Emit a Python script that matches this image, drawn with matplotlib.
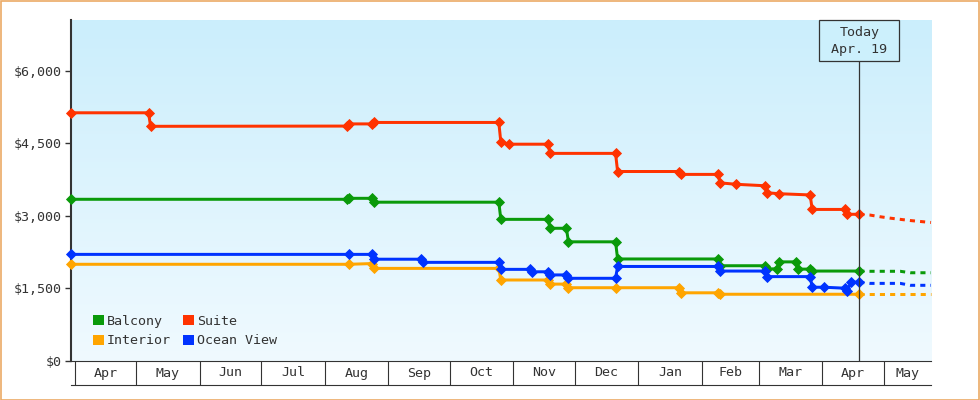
import numpy as np
import pandas as pd
import matplotlib
matplotlib.use('Agg')
import matplotlib.pyplot as plt
import matplotlib.dates as mdates
from matplotlib.colors import LinearSegmentedColormap
from matplotlib.patches import Rectangle, Patch

plt.rcParams['font.family'] = ['DejaVu Sans Mono']

balcony_dates = ['2017-03-30', '2017-08-12', '2017-08-13', '2017-08-24', '2017-08-25',
                 '2017-10-25', '2017-10-26', '2017-11-18', '2017-11-19', '2017-11-27',
                 '2017-11-28', '2017-12-21', '2017-12-22', '2018-02-09', '2018-02-10',
                 '2018-03-04', '2018-03-05', '2018-03-10', '2018-03-11', '2018-03-19',
                 '2018-03-20', '2018-03-26', '2018-03-27', '2018-04-19']
balcony_prices = [3340, 3340, 3360, 3360, 3280, 3280, 2925, 2925, 2740, 2740,
                  2460, 2460, 2105, 2105, 1965, 1965, 1900, 1900, 2045, 2045,
                  1895, 1895, 1855, 1855]

suite_dates = ['2017-03-30', '2017-05-07', '2017-05-08', '2017-08-12', '2017-08-13',
               '2017-08-24', '2017-08-25', '2017-10-25', '2017-10-26', '2017-10-30',
               '2017-11-18', '2017-11-19', '2017-12-21', '2017-12-22', '2018-01-21',
               '2018-01-22', '2018-02-09', '2018-02-10', '2018-02-18', '2018-03-04',
               '2018-03-05', '2018-03-11', '2018-03-26', '2018-03-27', '2018-04-12',
               '2018-04-13', '2018-04-19']
suite_prices = [5130, 5130, 4850, 4855, 4900, 4900, 4930, 4930, 4520, 4480,
                4480, 4290, 4290, 3915, 3915, 3855, 3855, 3680, 3650, 3620,
                3475, 3455, 3430, 3130, 3130, 3030, 3030]

interior_dates = ['2017-03-30', '2017-08-13', '2017-08-24', '2017-08-25', '2017-10-25',
                  '2017-10-26', '2017-11-18', '2017-11-19', '2017-11-27', '2017-11-28',
                  '2017-12-21', '2018-01-21', '2018-01-22', '2018-02-09', '2018-02-10',
                  '2018-04-19']
interior_prices = [1995, 1995, 2010, 1910, 1910, 1670, 1670, 1585, 1585, 1510,
                   1510, 1510, 1405, 1405, 1375, 1375]

ocean_dates = ['2017-03-30', '2017-08-13', '2017-08-24', '2017-08-25', '2017-09-17',
               '2017-09-18', '2017-10-25', '2017-10-26', '2017-11-09', '2017-11-10',
               '2017-11-18', '2017-11-19', '2017-11-27', '2017-11-28', '2017-12-21',
               '2017-12-22', '2018-02-09', '2018-02-10', '2018-03-04', '2018-03-05',
               '2018-03-26', '2018-03-27', '2018-04-02', '2018-04-12', '2018-04-13',
               '2018-04-15', '2018-04-19']
ocean_prices = [2200, 2200, 2200, 2100, 2100, 2035, 2035, 1890, 1890, 1840,
                1840, 1775, 1775, 1705, 1705, 1950, 1950, 1855, 1855, 1740,
                1740, 1520, 1520, 1500, 1440, 1625, 1625]

# projected fares after today
forecast_dates = ['2018-04-19', '2018-04-24', '2018-04-29', '2018-05-04',
                  '2018-05-09', '2018-05-14', '2018-05-19', '2018-05-24']
balcony_forecast = [1855, 1850, 1850, 1850, 1850, 1820, 1820, 1820]
suite_forecast = [3030, 3015, 2980, 2950, 2925, 2900, 2880, 2860]
interior_forecast = [1375, 1375, 1375, 1375, 1375, 1375, 1375, 1375]
ocean_forecast = [1625, 1600, 1600, 1600, 1600, 1560, 1560, 1560]

month_labels = ['Apr', 'May', 'Jun', 'Jul', 'Aug', 'Sep', 'Oct', 'Nov',
                'Dec', 'Jan', 'Feb', 'Mar', 'Apr', 'May']
y_ticks = [0, 1500, 3000, 4500, 6000]
today = '2018-04-19'

series = [
    ('Balcony', balcony_dates, balcony_prices, balcony_forecast, '#0a9a0a'),
    ('Suite', suite_dates, suite_prices, suite_forecast, '#ff3300'),
    ('Interior', interior_dates, interior_prices, interior_forecast, '#ffa500'),
    ('Ocean View', ocean_dates, ocean_prices, ocean_forecast, '#0033ff'),
]

ink = '#333333'
W, H = 980, 400
fig = plt.figure(figsize=(W / 100, H / 100), dpi=100)
ax = fig.add_axes([70.7 / W, 1 - 360.7 / H, 860.3 / W, 340.7 / H])

# background gradient
cmap = LinearSegmentedColormap.from_list('sky', ['#f0faff', '#cbeefc'])
ax.imshow(np.linspace(0, 1, 256).reshape(-1, 1), cmap=cmap, aspect='auto',
          origin='lower', extent=(0, 1, 0, 1), transform=ax.transAxes, zorder=0)

x0 = pd.Timestamp('2017-03-30')
x1 = pd.Timestamp('2018-05-24')

for name, d, p, fc, col in series:
    ax.plot(pd.to_datetime(forecast_dates), fc, color=col, lw=2.16,
            linestyle=(0, (1.7, 1.7)), zorder=2, clip_on=False)
    ax.plot(pd.to_datetime(d), p, color=col, lw=2.16, marker='D', ms=4.8,
            mew=0.6, zorder=3, clip_on=False, solid_joinstyle='miter')

ax.set_xlim(x0, x1)
ax.set_ylim(0, 7050)

# y axis
ax.set_yticks(y_ticks)
ax.set_yticklabels(['${:,}'.format(v) for v in y_ticks])
ax.tick_params(axis='y', direction='out', length=4.2, width=1.0, color=ink,
               labelcolor=ink, labelsize=9.6, pad=2)
for s in ['top', 'right']:
    ax.spines[s].set_visible(False)
ax.spines['left'].set_color(ink)
ax.spines['left'].set_linewidth(1.5)
ax.spines['bottom'].set_color(ink)
ax.spines['bottom'].set_linewidth(0.8)

# month boxes on x axis
month_starts = pd.date_range('2017-04-01', '2018-05-01', freq='MS')
ax.set_xticks(month_starts)
ax.set_xticklabels([])
ax.tick_params(axis='x', direction='out', length=17.5, width=0.8, color=ink)
box_y = -(385 - 360.7) / 340.7
ax.plot([0, 1], [box_y, box_y], transform=ax.transAxes, color=ink, lw=0.8,
        clip_on=False)
edges = list(month_starts) + [pd.Timestamp('2018-06-01')]
trans = ax.get_xaxis_transform()
for i, lab in enumerate(month_labels):
    a = max(edges[i], x0)
    b = min(edges[i + 1], x1)
    mid = a + (b - a) / 2
    ax.text(mid, -(373 - 360.7) / 340.7, lab, transform=trans, ha='center',
            va='center', fontsize=9.6, color=ink)

# today marker
t = pd.Timestamp(today)
box_top, box_bot = 20, 60.7
ax.axvline(t, ymax=(360.7 - box_bot) / 340.7, color=ink, lw=0.9, zorder=4)
tx = ax.transData.transform((mdates.date2num(t), 0))[0]
fig.add_artist(Rectangle(((tx - 40) / W, 1 - box_bot / H), 80 / W,
                         (box_bot - box_top) / H, transform=fig.transFigure,
                         facecolor='#ccf0fc', edgecolor=ink, lw=0.9, zorder=5))
fig.text(tx / W, 1 - 32.3 / H, 'Today', ha='center', va='center',
         fontsize=9.6, color=ink, zorder=6)
fig.text(tx / W, 1 - 50 / H, t.strftime('%b. %d'),
         ha='center', va='center', fontsize=9.6, color=ink, zorder=6)

# legend (column-major fill -> reorder)
order = [0, 2, 1, 3]
handles = [Patch(facecolor=series[i][4], edgecolor='none', label=series[i][0])
           for i in order]
ax.legend(handles=handles, ncol=2, loc='lower left', frameon=False,
          bbox_to_anchor=(93 / W, 1 - 347.5 / H), bbox_transform=fig.transFigure,
          fontsize=9.6, handlelength=0.8, handleheight=0.8, handletextpad=0.25,
          columnspacing=0.9, labelspacing=0.5, borderpad=0, borderaxespad=0,
          labelcolor=ink)

# orange frame around the whole image
fig.add_artist(Rectangle((0.5 / W, 0.5 / H), 978 / W, 399 / H,
                         transform=fig.transFigure, fill=False,
                         edgecolor='#ebaa66', lw=1.2))

fig.savefig('out.png', dpi=100)
